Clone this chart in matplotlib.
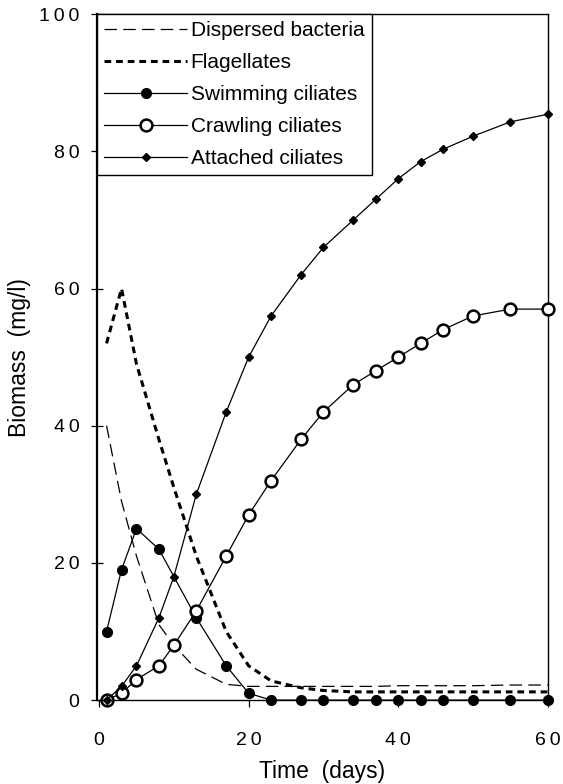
import matplotlib.pyplot as plt

plt.rcParams["font.family"] = ["Liberation Sans", "DejaVu Sans"]

days = [1, 3, 5, 8, 10, 13, 17, 20, 23, 27, 30, 34, 37, 40, 43, 46, 50, 55, 60]

bacteria = [40, 29, 21, 11, 8, 4.5, 2.3, 2.0, 2.0, 2.0, 2.0, 2.0, 2.0, 2.1,
            2.1, 2.1, 2.1, 2.2, 2.2]
flagellates = [52, 60, 49, 38, 31, 21, 10, 5, 2.8, 1.8, 1.4, 1.2, 1.2, 1.2,
               1.2, 1.2, 1.2, 1.2, 1.2]

swim_days = [1, 3, 5, 8, 13, 17, 20, 23, 27, 30, 34, 37, 40, 43, 46, 50, 55, 60]
swimming = [10, 19, 25, 22, 12, 5, 1, 0, 0, 0, 0, 0, 0, 0, 0, 0, 0, 0]

crawling = [0, 1, 3, 5, 8, 13, 21, 27, 32, 38, 42, 46, 48, 50, 52, 54, 56,
            57, 57]
attached = [0, 2, 5, 12, 18, 30, 42, 50, 56, 62, 66, 70, 73, 76, 78.5, 80.3,
            82.2, 84.3, 85.4]

x_ticks = [0, 20, 40, 60]
y_ticks = [0, 20, 40, 60, 80, 100]


def spaced(value):
    # the original prints its tick numbers with wide letter spacing
    return "\u2009".join(str(value))


fig = plt.figure(figsize=(5.63, 7.84), dpi=100)
ax = fig.add_axes([0.172, 0.107, 0.801, 0.875])

ax.plot(days, bacteria, color="black", linewidth=0.9,
        dashes=(10, 5), label="Dispersed bacteria")
ax.plot(days, flagellates, color="black", linewidth=2.2,
        dashes=(2.2, 1.6), label="Flagellates")
ax.plot(swim_days, swimming, color="black", linewidth=0.9, marker="o",
        markersize=7, label="Swimming ciliates", clip_on=False, zorder=3)
ax.plot(days, crawling, color="black", linewidth=0.9, marker="o",
        markersize=8.5, markerfacecolor="white", markeredgewidth=1.8,
        label="Crawling ciliates", clip_on=False, zorder=4)
ax.plot(days, attached, color="black", linewidth=0.9, marker="D",
        markersize=4.5, label="Attached ciliates", clip_on=False, zorder=5)

ax.set_xlim(-0.3, 60)
ax.set_ylim(0, 100)
ax.set_xticks(x_ticks)
ax.set_xticklabels([spaced(v) for v in x_ticks])
ax.set_yticks(y_ticks)
ax.set_yticklabels([spaced(v) for v in y_ticks])

ax.tick_params(axis="y", direction="inout", length=9, width=0.9,
               labelsize=14, pad=8)
ax.tick_params(axis="x", direction="out", length=5, width=0.9,
               labelsize=14, pad=18)

ax.spines["left"].set_linewidth(1.6)
for side in ["top", "right", "bottom"]:
    ax.spines[side].set_linewidth(1.0)

ax.set_xlabel("Time  (days)", fontsize=16.5, labelpad=8)
ax.set_ylabel("Biomass  (mg/l)", fontsize=16.5, labelpad=6)

leg = ax.legend(loc="upper left", fontsize=15, numpoints=1,
                handlelength=4.0, handletextpad=0.15, labelspacing=0.62,
                borderaxespad=0, borderpad=0.35, fancybox=False,
                framealpha=1, edgecolor="black")
leg.get_frame().set_linewidth(1.0)

fig.savefig("out.png", dpi=100)
